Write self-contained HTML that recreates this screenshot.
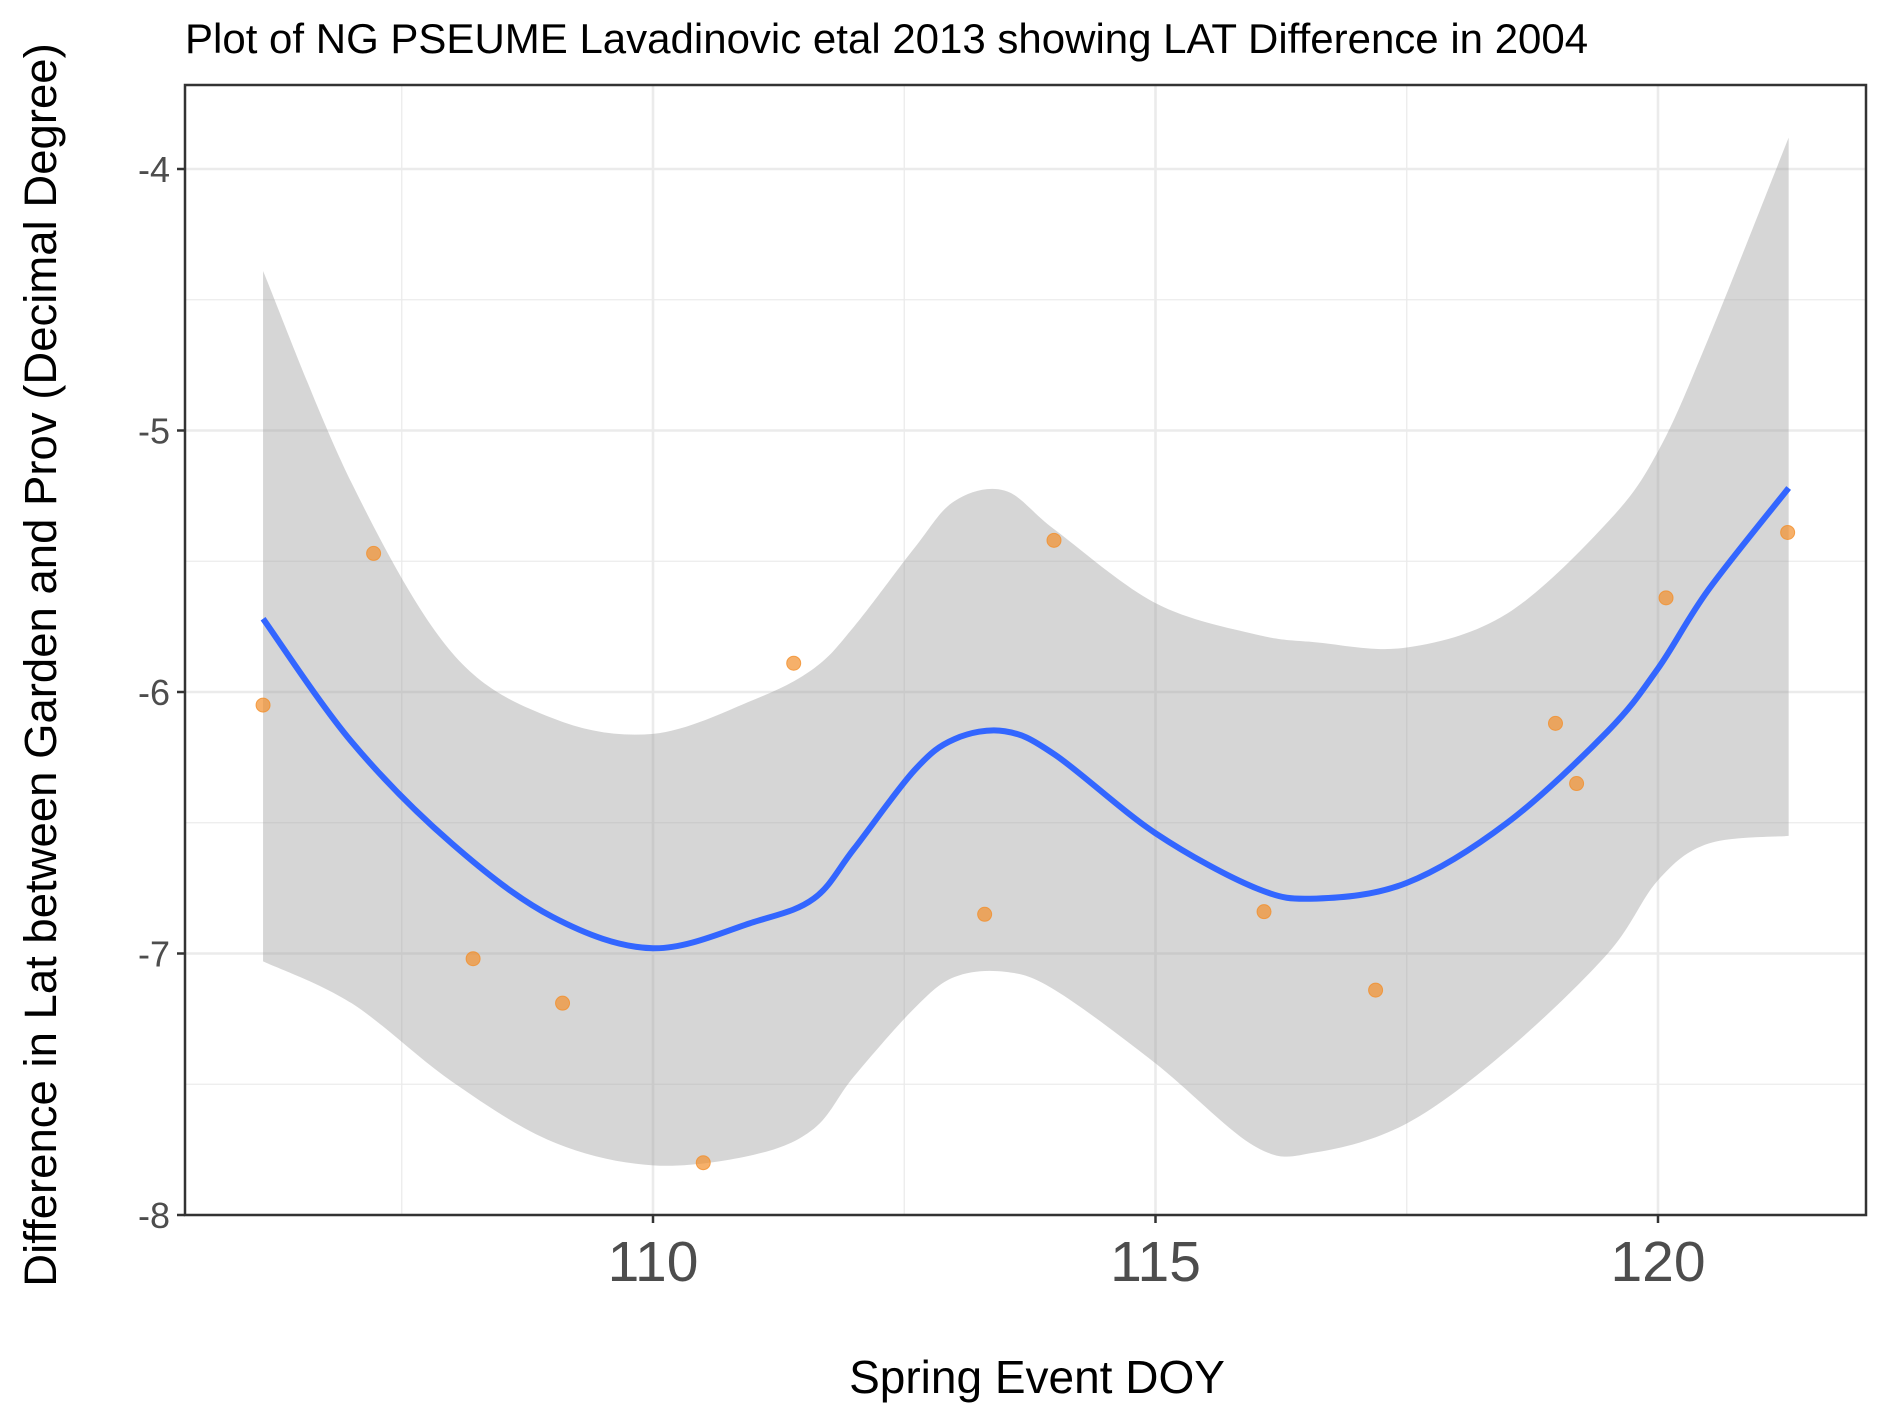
<!DOCTYPE html>
<html><head><meta charset="utf-8"><style>
body{margin:0;background:#fff}
svg{display:block;font-family:"Liberation Sans",sans-serif}
</style></head><body>
<svg id="chart" width="1889" height="1417" viewBox="0 0 1889 1417">
<text x="185" y="53" font-size="42" fill="#000">Plot of NG PSEUME Lavadinovic etal 2013 showing LAT Difference in 2004</text>
<g id="grid"></g>
<g id="band"></g>
<g id="line"></g>
<g id="pts"></g>
<rect x="185" y="85" width="1681" height="1130" fill="none" stroke="#333" stroke-width="2.5"/>
<g id="axes"></g>
<text x="1037" y="1393" font-size="46" text-anchor="middle" fill="#000">Spring Event DOY</text>
<text transform="translate(56,665) rotate(-90)" font-size="45.5" text-anchor="middle" fill="#000">Difference in Lat between Garden and Prov (Decimal Degree)</text>
</svg>
<script>
const xTicks=[110,115,120];
const yTicks=[-8,-7,-6,-5,-4];
const ptX=[106.12,107.22,108.21,109.10,110.50,111.40,113.30,113.99,116.08,117.19,118.98,119.19,120.08,121.29];
const ptY=[-6.05,-5.47,-7.02,-7.19,-7.80,-5.89,-6.85,-5.42,-6.84,-7.14,-6.12,-6.35,-5.64,-5.39];
const fitX=[106.12,107.0,108.0,109.0,110.0,111.0,111.6,112.0,112.6,113.0,113.5,114.0,115.0,116.0,116.6,117.5,118.5,119.5,120.0,120.5,121.3];
const fitY=[-5.72,-6.19,-6.58,-6.86,-6.98,-6.88,-6.79,-6.60,-6.30,-6.18,-6.15,-6.24,-6.54,-6.75,-6.79,-6.73,-6.50,-6.15,-5.91,-5.61,-5.22];
const upperY=[-4.39,-5.20,-5.85,-6.10,-6.16,-6.03,-5.91,-5.75,-5.45,-5.27,-5.23,-5.38,-5.66,-5.78,-5.81,-5.83,-5.70,-5.35,-5.08,-4.65,-3.88];
const lowerY=[-7.03,-7.19,-7.49,-7.72,-7.81,-7.77,-7.67,-7.47,-7.21,-7.09,-7.07,-7.14,-7.42,-7.74,-7.76,-7.65,-7.37,-7.00,-6.72,-6.58,-6.55];

const X0=185,X1=1866,Y0=85,Y1=1215;
const xs=v=>653+(v-110)*100.5;
const ys=v=>1215-(v+8)*261.5;
const NS="http://www.w3.org/2000/svg";
function mk(tag,attrs,parent){const e=document.createElementNS(NS,tag);for(const k in attrs)e.setAttribute(k,attrs[k]);parent.appendChild(e);return e;}
function smooth(pts){let d="M"+pts[0][0]+","+pts[0][1];
 for(let i=0;i<pts.length-1;i++){const p0=pts[i-1]||pts[i],p1=pts[i],p2=pts[i+1],p3=pts[i+2]||p2;
 d+=" C"+(p1[0]+(p2[0]-p0[0])/6)+","+(p1[1]+(p2[1]-p0[1])/6)+" "+(p2[0]-(p3[0]-p1[0])/6)+","+(p2[1]-(p3[1]-p1[1])/6)+" "+p2[0]+","+p2[1];}
 return d;}
const grid=document.getElementById('grid');
mk('rect',{x:X0,y:Y0,width:X1-X0,height:Y1-Y0,fill:'#fff'},grid);
for(let i=0;i<yTicks.length;i++){const v=yTicks[i];
 const l=mk('line',{x1:X0,x2:X1,y1:ys(v),y2:ys(v),stroke:'#ebebeb','stroke-width':2.6},grid);
 
 
 if(i<yTicks.length-1){const m=mk('line',{x1:X0,x2:X1,y1:ys(v+0.5),y2:ys(v+0.5),stroke:'#ebebeb','stroke-width':1.3},grid);
 
 }}
for(const v of xTicks){
 const l=mk('line',{y1:Y0,y2:Y1,x1:xs(v),x2:xs(v),stroke:'#ebebeb','stroke-width':2.6},grid);
 
 
 const m=mk('line',{y1:Y0,y2:Y1,x1:xs(v-2.5),x2:xs(v-2.5),stroke:'#ebebeb','stroke-width':1.3},grid);
 
 }
const up=fitX.map((x,i)=>[xs(x),ys(upperY[i])]);
const lo=fitX.map((x,i)=>[xs(x),ys(lowerY[i])]).reverse();
const bd=smooth(up)+" L"+lo[0][0]+","+lo[0][1]+smooth(lo).replace(/^M[^ ]+/,"")+" Z";
const band=mk('path',{d:bd,fill:'#999','fill-opacity':0.4},document.getElementById('band'));


const ln=mk('path',{d:smooth(fitX.map((x,i)=>[xs(x),ys(fitY[i])])),fill:'none',stroke:'#3366ff','stroke-width':6,'stroke-linejoin':'round'},document.getElementById('line'));


const pg=document.getElementById('pts');
for(let i=0;i<ptX.length;i++){
 const c=mk('circle',{cx:xs(ptX[i]),cy:ys(ptY[i]),r:7,fill:'#f28e2b','fill-opacity':0.7,stroke:'#f28e2b','stroke-opacity':0.8,'stroke-width':1},pg);
 
 }
const ax=document.getElementById('axes');
for(const v of yTicks){
 mk('line',{x1:X0-8,x2:X0,y1:ys(v),y2:ys(v),stroke:'#333','stroke-width':2.5},ax);
 const t=mk('text',{x:X0-15,y:ys(v)+13,'font-size':36,'text-anchor':'end',fill:'#4d4d4d'},ax);
 t.textContent=v;
 
 }
for(const v of xTicks){
 mk('line',{x1:xs(v),x2:xs(v),y1:Y1,y2:Y1+8,stroke:'#333','stroke-width':2.5},ax);
 const t=mk('text',{x:xs(v),y:Y1+66,'font-size':57,'text-anchor':'middle',fill:'#4d4d4d'},ax);
 t.textContent=v;
 
 }
</script>
</body></html>
